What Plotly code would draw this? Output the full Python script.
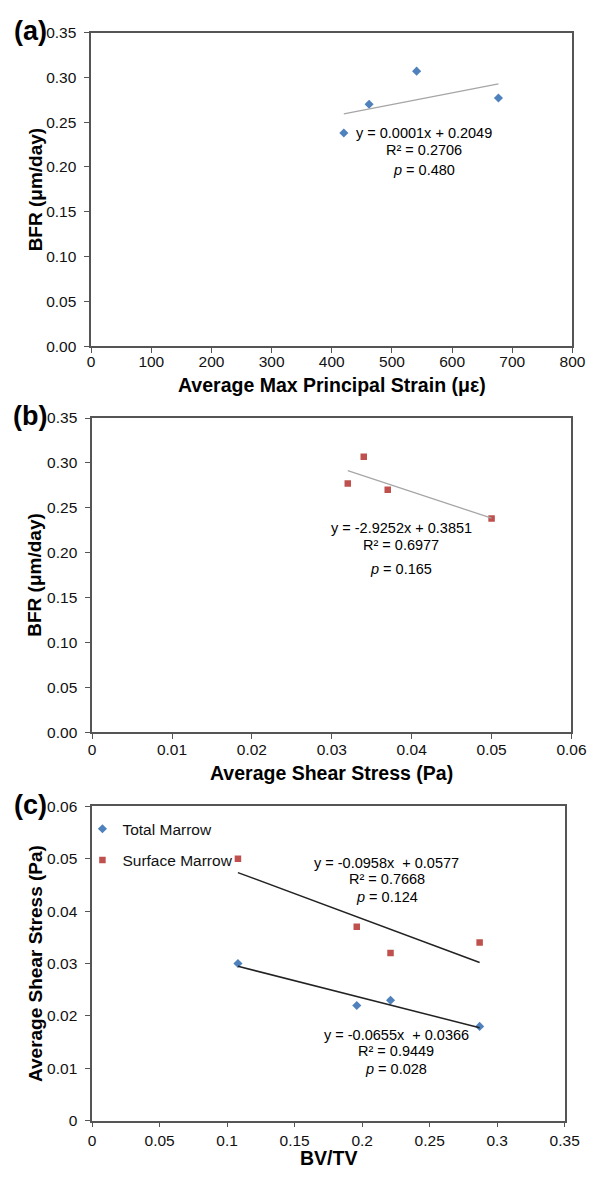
import numpy as np
import plotly.graph_objects as go

# ---------------- data ----------------
strain = [420, 462, 677, 541]            # Average Max Principal Strain (µε)
bfr = [0.238, 0.270, 0.277, 0.307]       # BFR (µm/day)
surface_shear = [0.050, 0.037, 0.032, 0.034]   # Average shear stress, surface marrow (Pa)
bvtv = [0.108, 0.196, 0.221, 0.287]      # BV/TV
total_shear = [0.030, 0.022, 0.023, 0.018]     # Average shear stress, total marrow (Pa)

eq_a = ["y = 0.0001x + 0.2049", "R² = 0.2706", "<i>p</i> = 0.480"]
eq_b = ["y = -2.9252x + 0.3851", "R² = 0.6977", "<i>p</i> = 0.165"]
eq_c_surf = ["y = -0.0958x  + 0.0577", "R² = 0.7668", "<i>p</i> = 0.124"]
eq_c_tot = ["y = -0.0655x  + 0.0366", "R² = 0.9449", "<i>p</i> = 0.028"]

W, H = 601, 1178
BLUE = "#4F81BD"
RED = "#C0504D"
FONT = "Liberation Sans, Arial, sans-serif"
TXT = "#111111"
AX = "#555555"


def px(x):
    return x / W


def py(y):
    return 1 - y / H


def fit_line(x, y):
    m, b = np.polyfit(x, y, 1)
    xs = np.array([min(x), max(x)])
    return xs, m * xs + b


fig = go.Figure()

# Panel (a)
fig.add_trace(go.Scatter(x=strain, y=bfr, mode="markers", xaxis="x", yaxis="y",
                         marker=dict(symbol="diamond", size=7, color=BLUE), showlegend=False))
lx, ly = fit_line(strain, bfr)
fig.add_trace(go.Scatter(x=lx, y=ly, mode="lines", xaxis="x", yaxis="y",
                         line=dict(color="#A6A6A6", width=1.3), showlegend=False))

# Panel (b)
fig.add_trace(go.Scatter(x=surface_shear, y=bfr, mode="markers", xaxis="x2", yaxis="y2",
                         marker=dict(symbol="square", size=6.5, color=RED), showlegend=False))
lx, ly = fit_line(surface_shear, bfr)
fig.add_trace(go.Scatter(x=lx, y=ly, mode="lines", xaxis="x2", yaxis="y2",
                         line=dict(color="#A6A6A6", width=1.3), showlegend=False))

# Panel (c)
fig.add_trace(go.Scatter(x=bvtv, y=total_shear, mode="markers", xaxis="x3", yaxis="y3",
                         name="Total Marrow", legendgroup="t",
                         marker=dict(symbol="diamond", size=7, color=BLUE)))
fig.add_trace(go.Scatter(x=bvtv, y=surface_shear, mode="markers", xaxis="x3", yaxis="y3",
                         name="Surface Marrow", legendgroup="s",
                         marker=dict(symbol="square", size=6.5, color=RED)))
lx, ly = fit_line(bvtv, total_shear)
fig.add_trace(go.Scatter(x=lx, y=ly, mode="lines", xaxis="x3", yaxis="y3",
                         line=dict(color="#222222", width=1.5), showlegend=False))
lx, ly = fit_line(bvtv, surface_shear)
fig.add_trace(go.Scatter(x=lx, y=ly, mode="lines", xaxis="x3", yaxis="y3",
                         line=dict(color="#222222", width=1.5), showlegend=False))


def axis(domain, rng, dtick, fmt=None, anchor=None, standoff=0):
    d = dict(domain=domain, range=rng, dtick=dtick, tick0=0, showline=True, mirror=True,
             linecolor=AX, linewidth=1.5, ticks="outside", ticklen=5, tickcolor=AX,
             tickwidth=1.3, showgrid=False, zeroline=False,
             tickfont=dict(family=FONT, size=15.5, color=TXT), anchor=anchor,
             ticklabelstandoff=standoff)
    if fmt:
        d["tickformat"] = fmt
    return d


fig.update_layout(
    width=W, height=H, margin=dict(l=0, r=0, t=0, b=0),
    paper_bgcolor="white", plot_bgcolor="white",
    xaxis=axis([px(90), px(587)], [0, 800], 100, anchor="y", standoff=-4),
    yaxis=axis([py(342), py(24)], [0, 0.35], 0.05, ".2f", anchor="x", standoff=5),
    xaxis2=axis([px(91), px(586)], [0, 0.06], 0.01, anchor="y2", standoff=-3),
    yaxis2=axis([py(734), py(415)], [0, 0.35], 0.05, ".2f", anchor="x2", standoff=5),
    xaxis3=axis([px(91), px(579)], [0, 0.35], 0.05, anchor="y3"),
    yaxis3=axis([py(1128), py(809)], [0, 0.06], 0.01, anchor="x3", standoff=5),
    legend=dict(x=px(81), y=py(815), xanchor="left", yanchor="top",
                font=dict(family=FONT, size=15.5, color=TXT), bgcolor="rgba(0,0,0,0)",
                traceorder="grouped", tracegroupgap=8, itemwidth=30),
)

ann = []


def text(x, y, s, size=14.5, bold=False, angle=0):
    ann.append(dict(x=px(x), y=py(y), xref="paper", yref="paper", text=(f"<b>{s}</b>" if bold else s),
                    showarrow=False, xanchor="center", yanchor="middle", textangle=angle,
                    font=dict(family=FONT, size=size, color="#000000")))


# panel labels
text(27, 22, "(a)", 27, True)
text(27, 413, "(b)", 27, True)
text(27, 808, "(c)", 27, True)

# axis titles
text(32, 183, "BFR (μm/day)", 19, True, -90)
text(32, 574, "BFR (μm/day)", 19, True, -90)
text(32, 968, "Average Shear Stress (Pa)", 19, True, -90)
text(339, 381, "Average Max Principal Strain (με)", 19.5, True)
text(338, 775, "Average Shear Stress (Pa)", 19.5, True)
text(335, 1166, "BV/TV", 19.5, True)

# regression equations
for (cx, ys, lines) in [
    (434, [126, 143, 163], eq_a),
    (410, [527, 544, 568], eq_b),
    (395, [867, 883, 901], eq_c_surf),
    (405, [1041, 1057, 1076], eq_c_tot),
]:
    for yy, s in zip(ys, lines):
        text(cx, yy, s, 14.5)

fig.update_layout(annotations=ann)
fig.write_html("out.html", config={"displayModeBar": False},
               post_script="document.body.style.margin='0px';document.body.style.overflow='hidden';")
